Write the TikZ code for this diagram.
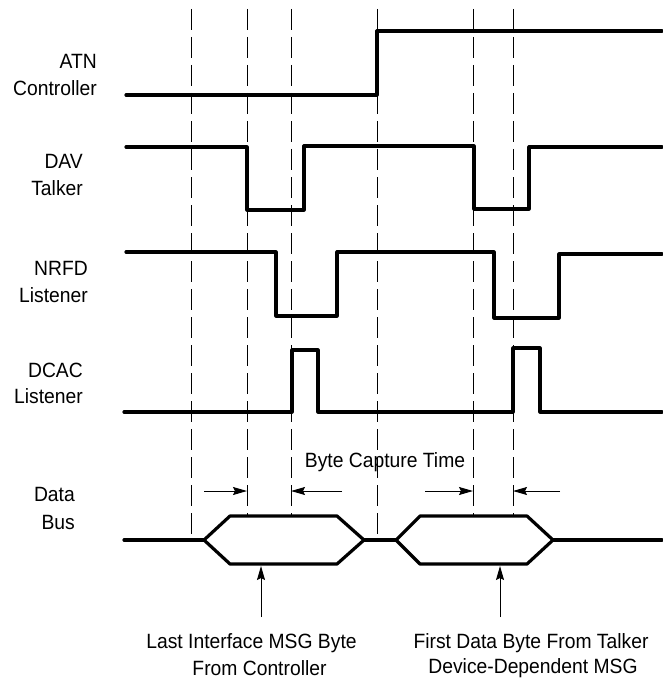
\documentclass[tikz,border=0pt]{standalone}
\usepackage{fontspec}
\usepackage{graphicx}
\setmainfont{Liberation Sans}
\usetikzlibrary{arrows.meta}
\newcommand\tallt[1]{\scalebox{1}[1.07]{#1}}
\begin{document}
\begin{tikzpicture}[x=1pt,y=-1pt,
  sig/.style={line width=3.2pt, line cap=round, line join=round},
  guide/.style={line width=0.9pt, dash pattern=on 21pt off 7pt},
  dim/.style={line width=1pt, -{Stealth[length=14pt,width=8pt,inset=2pt]}},
  lbl/.style={font=\fontsize{19.3}{26.7}\selectfont, inner sep=0pt}]
\useasboundingbox (0,0) rectangle (662,679);
% guide lines
\draw[guide] (191,9) -- (191,540);
\draw[guide] (247,9) -- (247,516);
\draw[guide] (291,9) -- (291,516);
\draw[guide] (377,9) -- (377,540);
\draw[guide] (473,9) -- (473,516);
\draw[guide] (513,9) -- (513,516);
% labels
\node[lbl, anchor=base east] (atn) at (97,69) {\tallt{ATN}};
\node[lbl, anchor=base east] (atnc) at (97,96) {\tallt{Controller}};
\node[lbl, anchor=base east] (dav) at (83,168) {\tallt{DAV}};
\node[lbl, anchor=base east] (davt) at (83,195) {\tallt{Talker}};
\node[lbl, anchor=base east] (nrfd) at (88,275) {\tallt{NRFD}};
\node[lbl, anchor=base east] (nrfdl) at (88,302) {\tallt{Listener}};
\node[lbl, anchor=base east] (dcac) at (83,377) {\tallt{DCAC}};
\node[lbl, anchor=base east] (dcacl) at (83,403) {\tallt{Listener}};
\node[lbl, anchor=base east] (data) at (75,501) {\tallt{Data}};
\node[lbl, anchor=base east] (bus) at (75,529) {\tallt{Bus}};
% signals
\draw[sig] (126,95) -- (377,95) -- (377,31) -- (662,31);
\draw[sig] (126,147) -- (247,147) -- (247,210) -- (304,210) -- (304,146) -- (474,146) -- (474,209) -- (529,209) -- (529,147) -- (662,147);
\draw[sig] (126,252) -- (276,252) -- (276,316) -- (337,316) -- (337,252) -- (494,252) -- (494,318) -- (559,318) -- (559,254) -- (662,254);
\draw[sig] (124,412) -- (292,412) -- (292,350) -- (318,350) -- (318,412) -- (513,412) -- (513,348) -- (540,348) -- (540,412) -- (662,412);
% data bus
\draw[sig] (124,540) -- (204,540);
\draw[sig] (204,540) -- (230,516) -- (337,516) -- (364,540) -- (337,564) -- (230,564) -- cycle;
\draw[sig] (364,540) -- (396,540);
\draw[sig] (396,540) -- (420,516) -- (527,516) -- (553,540) -- (527,564) -- (420,564) -- cycle;
\draw[sig] (553,540) -- (662,540);
% byte capture time
\node[lbl, anchor=base] (bct) at (385,467) {\tallt{Byte Capture Time}};
\coordinate (a1s) at (204,491); \coordinate (a1e) at (247,491);
\coordinate (a2s) at (342,491); \coordinate (a2e) at (291,491);
\coordinate (a3s) at (425,491); \coordinate (a3e) at (473,491);
\coordinate (a4s) at (560,491); \coordinate (a4e) at (513,491);
\draw[dim] (a1s) -- (a1e);
\draw[dim] (a2s) -- (a2e);
\draw[dim] (a3s) -- (a3e);
\draw[dim] (a4s) -- (a4e);
% bottom annotations
\node[lbl, anchor=base] (l1) at (251.5,648) {\tallt{Last Interface MSG Byte}};
\node[lbl, anchor=base] (l2) at (259.5,675) {\tallt{From Controller}};
\node[lbl, anchor=base] (r1) at (531,648) {\tallt{First Data Byte From Talker}};
\node[lbl, anchor=base] (r2) at (533,673) {\tallt{Device-Dependent MSG}};
\coordinate (v1s) at (261,617); \coordinate (v1e) at (261,566);
\coordinate (v2s) at (500,617); \coordinate (v2e) at (500,566);
\draw[dim] (v1s) -- (v1e);
\draw[dim] (v2s) -- (v2e);
\end{tikzpicture}
\end{document}
